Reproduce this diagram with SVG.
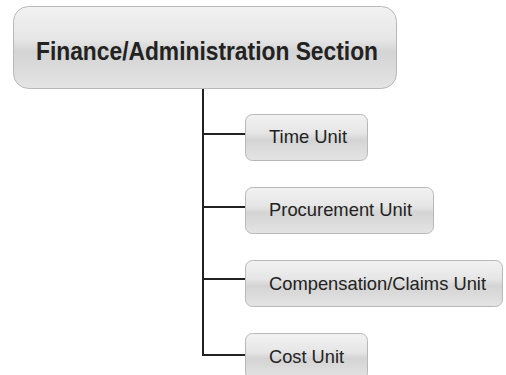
<svg xmlns="http://www.w3.org/2000/svg" width="506" height="375" viewBox="0 0 506 375">
  <defs>
    <linearGradient id="g" x1="0" y1="0" x2="0" y2="1">
      <stop offset="0" stop-color="#f2f2f2"/>
      <stop offset="0.4" stop-color="#e6e6e6"/>
      <stop offset="0.55" stop-color="#d4d4d4"/>
      <stop offset="1" stop-color="#e4e4e4"/>
    </linearGradient>
  </defs>
  <style>
    .box { fill: url(#g); stroke: #b8b8b8; stroke-width: 1; }
    .t { font-family: "Liberation Sans", Arial, sans-serif; fill: #222; }
    .main { font-size: 26px; font-weight: bold; }
    .sub { font-size: 19px; }
    .conn { fill: none; stroke: #222; stroke-width: 2; }
  </style>
  <rect width="506" height="375" fill="#ffffff"/>
  <g id="connectors">
    <path class="conn" d="M203,88 V355 H245"/>
    <path class="conn" d="M203,134 H245"/>
    <path class="conn" d="M203,207 H245"/>
    <path class="conn" d="M203,279 H245"/>
  </g>
  <g id="finance-admin">
    <rect class="box" x="13.5" y="6.5" width="383" height="82" rx="15"/>
    <text class="t main" x="36" y="60" textLength="342" lengthAdjust="spacingAndGlyphs">Finance/Administration Section</text>
  </g>
  <g id="time-unit">
    <rect class="box" x="245.5" y="114.5" width="122" height="46" rx="7"/>
    <text class="t sub" x="269" y="143" textLength="78" lengthAdjust="spacingAndGlyphs">Time Unit</text>
  </g>
  <g id="procurement-unit">
    <rect class="box" x="245.5" y="187.5" width="188" height="46" rx="7"/>
    <text class="t sub" x="269" y="216" textLength="143" lengthAdjust="spacingAndGlyphs">Procurement Unit</text>
  </g>
  <g id="compensation-claims-unit">
    <rect class="box" x="245.5" y="260.5" width="257" height="46" rx="7"/>
    <text class="t sub" x="269" y="290" textLength="217" lengthAdjust="spacingAndGlyphs">Compensation/Claims Unit</text>
  </g>
  <g id="cost-unit">
    <rect class="box" x="245.5" y="333.5" width="122" height="46" rx="7"/>
    <text class="t sub" x="269" y="363" textLength="75" lengthAdjust="spacingAndGlyphs">Cost Unit</text>
  </g>
</svg>
